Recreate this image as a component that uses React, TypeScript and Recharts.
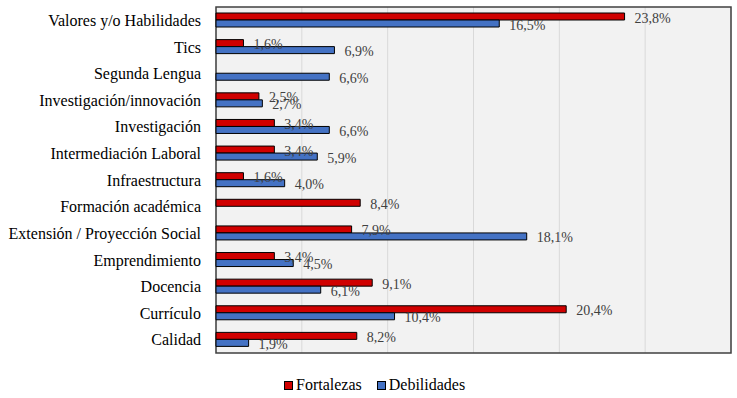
import { Bar, BarChart, CartesianGrid, LabelList, Legend, ReferenceArea, XAxis, YAxis } from 'recharts';

const CATEGORIES = [
  'Valores y/o Habilidades',
  'Tics',
  'Segunda Lengua',
  'Investigación/innovación',
  'Investigación',
  'Intermediación Laboral',
  'Infraestructura',
  'Formación académica',
  'Extensión / Proyección Social',
  'Emprendimiento',
  'Docencia',
  'Currículo',
  'Calidad',
];

const FORTALEZAS: (number | null)[] = [23.8, 1.6, null, 2.5, 3.4, 3.4, 1.6, 8.4, 7.9, 3.4, 9.1, 20.4, 8.2];
const DEBILIDADES: (number | null)[] = [16.5, 6.9, 6.6, 2.7, 6.6, 5.9, 4.0, null, 18.1, 4.5, 6.1, 10.4, 1.9];

const X_TICKS = [0, 5, 10, 15, 20, 25, 30];

const SERIES = [
  { key: 'fortalezas', name: 'Fortalezas', color: '#d00000' },
  { key: 'debilidades', name: 'Debilidades', color: '#4472c4' },
];

const FONT = 'Liberation Serif';

const data = CATEGORIES.map((name, i) => ({
  name,
  fortalezas: FORTALEZAS[i],
  debilidades: DEBILIDADES[i],
}));

const fmt = (v: number) => `${v.toFixed(1).replace('.', ',')}%`;

function ValueLabel(props: any) {
  const { x, y, width, height, value } = props;
  if (value == null || value === 0) return null;
  return (
    <text x={x + width + 10} y={y + height / 2 + 6} fill="#404040" fontSize={14} style={{ fontFamily: FONT }}>
      {fmt(value)}
    </text>
  );
}

function LegendBox() {
  return (
    <div style={{ display: 'flex', alignItems: 'center', fontFamily: FONT, fontSize: 16, color: '#000' }}>
      {SERIES.map((s, i) => (
        <span key={s.key} style={{ display: 'flex', alignItems: 'center', marginLeft: i ? 15 : 0 }}>
          <span style={{ display: 'inline-block', width: 7, height: 7, background: s.color, border: '1px solid #000', marginRight: 3 }} />
          {s.name}
        </span>
      ))}
    </div>
  );
}

export default function App() {
  return (
    <div style={{ position: 'absolute', left: 0, top: 0, width: 737, height: 398, background: '#fff', fontFamily: FONT }}>
      <BarChart
        width={737}
        height={398}
        data={data}
        layout="vertical"
        margin={{ top: 7, right: 6, bottom: 45, left: 0 }}
        barGap={0}
        barSize={7}
        style={{ fontFamily: FONT }}
      >
        <CartesianGrid horizontal={false} fill="#f2f2f2" stroke="#d9d9d9" strokeWidth={1} />
        <XAxis type="number" domain={[0, 30]} ticks={X_TICKS} hide />
        <YAxis
          type="category"
          dataKey="name"
          width={216}
          axisLine={false}
          tickLine={false}
          tickSize={0}
          tickMargin={15}
          interval={0}
          tick={{ fill: '#000', fontSize: 16, style: { fontFamily: FONT } }}
        />
        {SERIES.map((s) => (
          <Bar key={s.key} dataKey={s.key} name={s.name} fill={s.color} stroke="#000" strokeWidth={1} isAnimationActive={false}>
            <LabelList dataKey={s.key} content={ValueLabel} />
          </Bar>
        ))}
        <ReferenceArea x1={0} x2={30} fill="none" stroke="#404040" strokeWidth={1.5} ifOverflow="visible" />
        <Legend
          layout="horizontal"
          verticalAlign="middle"
          align="center"
          wrapperStyle={{ top: 376, left: 284, width: 'auto' }}
          content={LegendBox}
        />
      </BarChart>
    </div>
  );
}
